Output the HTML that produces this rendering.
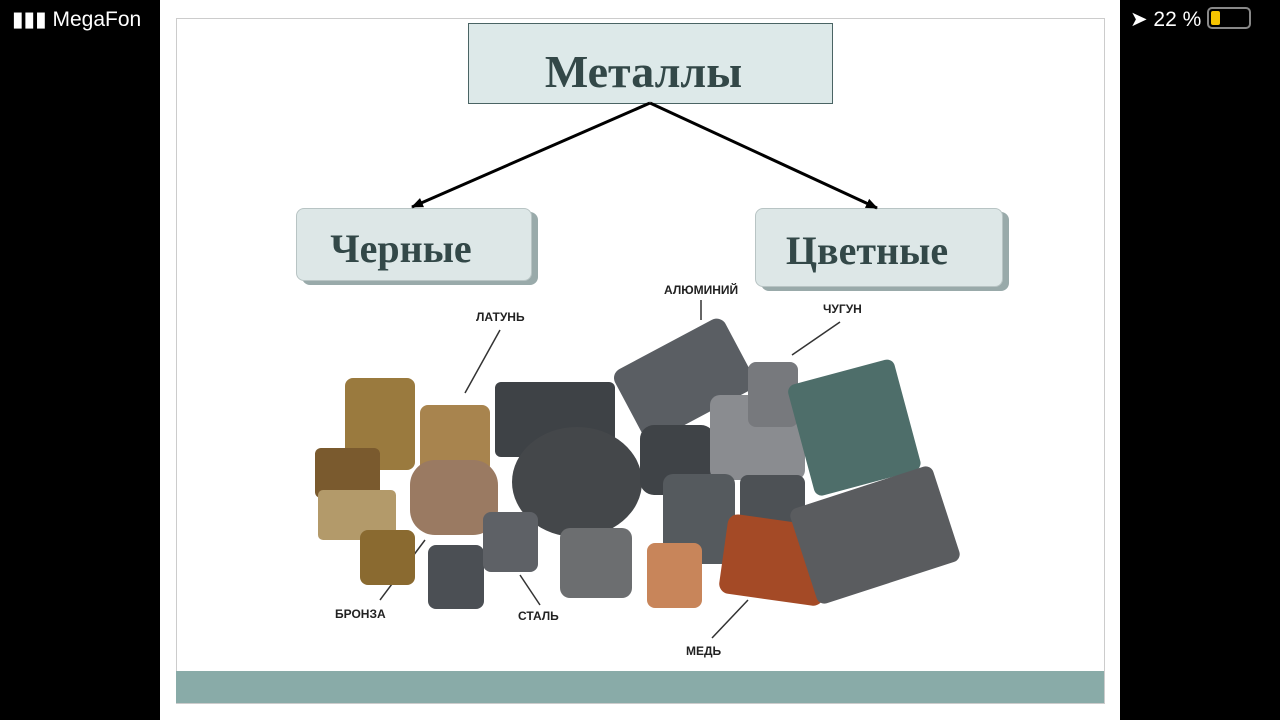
<!DOCTYPE html>
<html><head><meta charset="utf-8"><style>
body{margin:0;width:1280px;height:720px;background:#000;position:relative;overflow:hidden;font-family:"Liberation Sans",sans-serif}
.abs{position:absolute}
.slide{left:160px;top:0;width:960px;height:720px;background:#fff}
.frame{left:176px;top:18px;width:927px;height:684px;border:1px solid #ccc}
.bar{left:176px;top:671px;width:928px;height:32px;background:#89aba8}
.box{background:#dde9e9;border:1px solid #4a6464;font-family:"Liberation Serif",serif;font-weight:bold;color:#334848;text-align:center}
.sub{border-radius:8px;box-shadow:6px 4px 0 #9aa;background:#dde7e7;border:1px solid #b8c4c4}
.lbl{font-size:12px;font-weight:bold;color:#222}
</style></head><body>
<div class="abs slide"></div>
<div class="abs frame"></div>
<div class="abs bar"></div>
<div class="abs" style="left:12px;top:7px;color:#fff;font-size:21px">▮▮▮ MegaFon</div>
<div class="abs" style="left:1130px;top:7px;color:#fff;font-size:21px">➤ 22 % <span style="display:inline-block;width:40px;height:18px;border:2px solid #888;border-radius:5px;vertical-align:-3px;position:relative"><span style="position:absolute;left:2px;top:2px;width:9px;height:14px;background:#f5c400;border-radius:2px"></span></span></div>
<div class="abs box" style="left:468px;top:23px;width:363px;height:79px;line-height:96px;font-size:46px;text-indent:-14px">Металлы</div>
<div class="abs box sub" style="left:296px;top:208px;width:234px;height:71px;line-height:80px;font-size:40px;text-indent:-26px">Черные</div>
<div class="abs box sub" style="left:755px;top:208px;width:246px;height:77px;line-height:84px;font-size:40px;text-indent:-24px">Цветные</div>
<svg class="abs" style="left:0;top:0" width="1280" height="720">
<defs><marker id="a" markerUnits="userSpaceOnUse" markerWidth="12" markerHeight="10" refX="11" refY="5" orient="auto"><path d="M0,0L12,5L0,10z" fill="#000"/></marker></defs>
<line x1="650" y1="103" x2="412" y2="207" stroke="#000" stroke-width="3" marker-end="url(#a)"/>
<line x1="650" y1="103" x2="877" y2="208" stroke="#000" stroke-width="3" marker-end="url(#a)"/>
<g stroke="#333" stroke-width="1.5"><line x1="500" y1="330" x2="465" y2="393"/><line x1="701" y1="300" x2="701" y2="320"/><line x1="840" y1="322" x2="792" y2="355"/><line x1="380" y1="600" x2="425" y2="540"/><line x1="540" y1="605" x2="520" y2="575"/><line x1="712" y1="638" x2="748" y2="600"/></g>
<rect x="345" y="378" width="70" height="92" rx="8" fill="#9a7a3e"/>
<rect x="315" y="448" width="65" height="50" rx="6" fill="#7a5a2e"/>
<rect x="318" y="490" width="78" height="50" rx="5" fill="#b39a6a"/>
<rect x="360" y="530" width="55" height="55" rx="8" fill="#8a6a30"/>
<rect x="420" y="405" width="70" height="68" rx="8" fill="#a8844e"/>
<rect x="410" y="460" width="88" height="75" rx="25" fill="#9a7a62"/>
<rect x="495" y="382" width="120" height="75" rx="6" fill="#3e4246"/>
<ellipse cx="577" cy="482" rx="65" ry="55" fill="#44474a"/>
<rect x="622" y="340" width="125" height="80" rx="10" fill="#5a5e63" transform="rotate(-28 684 380)"/>
<rect x="640" y="425" width="75" height="70" rx="14" fill="#3f4347"/>
<rect x="710" y="395" width="95" height="85" rx="10" fill="#8a8c90"/>
<rect x="748" y="362" width="50" height="65" rx="8" fill="#77797d"/>
<rect x="800" y="370" width="110" height="115" rx="8" fill="#4e6e6a" transform="rotate(-15 855 430)"/>
<rect x="428" y="545" width="56" height="64" rx="8" fill="#4b4f54"/>
<rect x="483" y="512" width="55" height="60" rx="8" fill="#5e6166"/>
<rect x="560" y="528" width="72" height="70" rx="10" fill="#6c6e70"/>
<rect x="663" y="474" width="72" height="90" rx="10" fill="#555a5e"/>
<rect x="740" y="475" width="65" height="55" rx="8" fill="#4d5155"/>
<rect x="647" y="543" width="55" height="65" rx="8" fill="#c8855a"/>
<rect x="723" y="520" width="105" height="80" rx="10" fill="#a44a26" transform="rotate(8 775 560)"/>
<rect x="800" y="485" width="150" height="100" rx="8" fill="#5a5c5f" transform="rotate(-18 875 535)"/>
</svg>
<div class="abs lbl" style="left:476px;top:310px">ЛАТУНЬ</div>
<div class="abs lbl" style="left:664px;top:283px">АЛЮМИНИЙ</div>
<div class="abs lbl" style="left:823px;top:302px">ЧУГУН</div>
<div class="abs lbl" style="left:335px;top:607px">БРОНЗА</div>
<div class="abs lbl" style="left:518px;top:609px">СТАЛЬ</div>
<div class="abs lbl" style="left:686px;top:644px">МЕДЬ</div>
</body></html>
